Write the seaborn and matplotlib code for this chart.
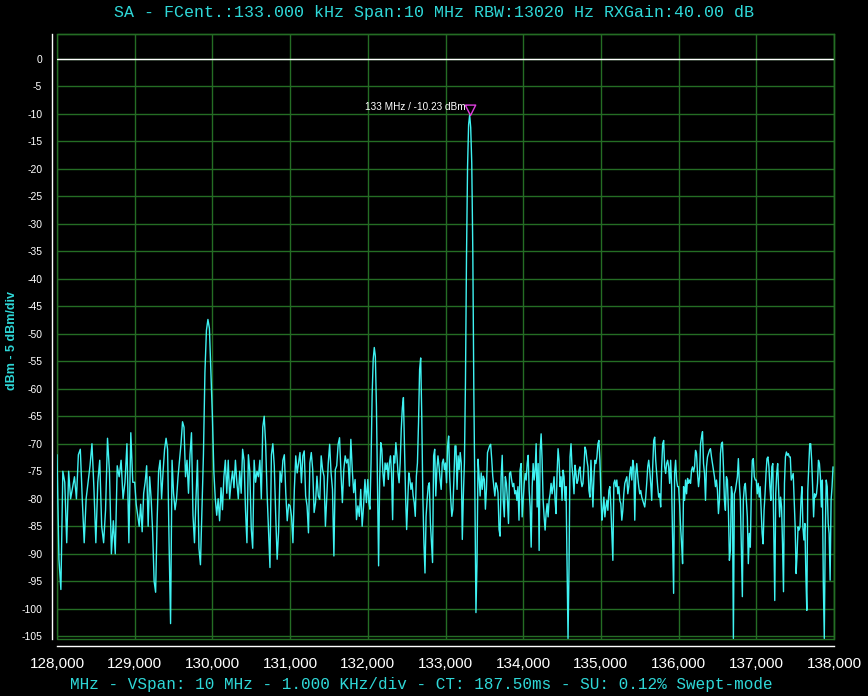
import numpy as np
import pandas as pd
import seaborn as sns
import matplotlib.pyplot as plt
from matplotlib.patches import Rectangle

sns.set_style("dark", {"axes.facecolor": "black", "figure.facecolor": "black",
                       "axes.edgecolor": "white", "grid.color": "#246d24",
                       "xtick.color": "white", "ytick.color": "white"})
plt.rcParams['font.family'] = ['Liberation Sans', 'DejaVu Sans']
plt.rcParams['axes.unicode_minus'] = False

# trace levels in dBm, one list for each 1000 kHz division
div_128 = [-72, -91, -96.5, -75, -77, -88, -75, -80, -78, -76,
           -80, -72, -71, -80, -88, -80, -77, -74, -70, -78,
           -88, -77, -73, -85, -88, -82, -69, -75, -90, -84,
           -90, -74, -76, -73, -80, -77, -70, -88, -68, -77]
div_129 = [-77, -81, -83, -85, -81, -86, -79, -77, -74, -85,
           -76, -80, -86, -95, -97, -84, -75, -73, -80, -75,
           -71, -69, -71, -88, -102.7, -73, -79, -82, -80, -76,
           -73, -70, -66, -67, -76, -73, -79, -72, -68, -83,
           -88, -80, -73, -89, -92, -82, -72, -57, -49.4, -47.4,
           -49, -57]
div_130 = [-65, -75, -80, -83, -80, -84, -78, -82, -76, -73,
           -79, -73, -80, -77, -75, -78, -73, -77, -80, -75,
           -79, -71, -73, -82, -88, -72, -75, -85.5, -89, -73,
           -77, -75, -76, -73, -80, -67, -65, -70, -79, -86,
           -92.5, -72, -70, -74, -83, -91, -86, -75, -77, -73,
           -72, -79, -84, -81]
div_131 = [-81.3, -83.2, -88, -78.3, -72.2, -75.3, -73.5, -71.6, -77.1, -72.2,
           -71.3, -79.5, -81.3, -86.2, -73.5, -71.6, -74.7, -82.5, -80.7, -75.9,
           -79.5, -80.1, -72.2, -74.7, -75.9, -85, -79.5, -73.5, -70.1, -75.3,
           -78.3, -90.4, -74.7, -74, -70.1, -68.9, -75.3, -80.7, -74.7, -72.2,
           -73.5, -72.8, -77.7, -69.2, -74.7, -78.9, -76.5, -83.8, -81.3, -83.2,
           -78.3, -85, -81.3, -76.5, -80.7]
div_132 = [-76.5, -80.7, -81.9, -73.5, -61.3, -54.7, -52.5, -54.1, -63.2, -78.3,
           -92.2, -76.5, -69.8, -71, -75.3, -77.7, -73.5, -74.7, -73.5, -76.5,
           -73.5, -72.2, -75.3, -83.8, -72.2, -73.5, -69.8, -72.2, -75.3, -77.1,
           -73.5, -67.4, -63.5, -61.6, -70.4, -79.5, -85.6, -80.7, -75.3, -76.5,
           -78.3, -77.1, -79.5, -80.7, -83.2, -75.9, -73.5, -66.2, -56.5, -54.4,
           -65, -79.5, -88, -93.5, -83.2, -80.1, -77.7, -77.1, -84.4, -88,
           -91.6, -72.2, -71, -79.5, -74.7, -72.2, -74.1, -76.5, -78.3, -73.5,
           -72.8, -74.7]
div_133 = [-73.5, -77.1, -70.4, -68.6, -75.9, -80.1, -83.2, -81.9, -76.5, -70.4,
           -70.4, -78.3, -72.2, -74.7, -71.6, -73.5, -87.4, -79.5, -73.5, -59,
           -36, -19.7, -12, -10.23, -12.5, -19, -35, -61, -79.5, -100.7,
           -91.6, -72.8, -75.9, -79.5, -75.3, -78.3, -75.9, -76.5, -81.9, -78.3,
           -71.6, -71, -70.4, -70.1, -72.8, -75.9, -77.7, -79.5, -77.1, -77.7,
           -78.9, -85.6, -86.8, -76, -72.1, -80.3, -83.3, -76, -77.2, -80.3,
           -84.5, -75.4, -75.1, -76.6, -77.8, -77.2, -79.1, -78.5, -80.3, -77.8,
           -83.9, -74.8, -73.6, -83.3]
div_134 = [-80.3, -77.2, -75.4, -76.6, -73.6, -72.1, -78.5, -81.5, -88.8, -77.8,
           -73.6, -76.6, -74.8, -70, -81.5, -73.6, -89.4, -71.2, -68.2, -73,
           -80.3, -83.3, -85.7, -82.7, -80.9, -83.3, -80.3, -79.1, -77.2, -79.1,
           -77.8, -76, -80.3, -82.7, -75.4, -70.9, -73, -77.8, -76, -80.3,
           -74.8, -76, -80.3, -77.8, -92.4, -105.4, -92.4, -72.4, -70, -74.2,
           -76, -79.1, -73.9, -75.4, -77.2, -76.6, -74.8, -74.2, -76.6, -77.8,
           -77.2, -74.2, -70.6, -71.2, -73, -74.2, -78.5, -79.7, -73, -77.2,
           -81.5, -76, -73, -73.6, -72.4, -70, -69.4, -73]
div_135 = [-79.1, -83.9, -82.1, -79.7, -83.3, -81.5, -80.3, -82.1, -78.5, -77.8,
           -81.5, -86.3, -91.2, -77.2, -76.6, -77.8, -76.6, -79.1, -77.8, -80.3,
           -80.9, -83.9, -82.1, -79.1, -77.2, -76.6, -76, -79.1, -77.8, -75.4,
           -74.2, -76.6, -73, -74.2, -83.9, -75.4, -73.6, -76, -77.8, -79.1,
           -78.5, -79.7, -80.3, -80.9, -81.5, -79.7, -77.2, -74.2, -73, -74.8,
           -77.2, -80.3, -74.2, -69.4, -68.8, -73, -75.4, -77.8, -79.7, -79.1,
           -81.5, -74.2, -70, -69.4, -74.2, -75.4, -73.6, -73, -74.2, -77.2,
           -73, -77.8, -87.5, -97.2, -75.4, -73, -76.6, -77.8]
div_136 = [-77.8, -80.9, -85.1, -88.2, -91.8, -77.8, -80.3, -76.6, -79.1, -76.3,
           -77.2, -76.6, -77.2, -74.8, -74.2, -75.1, -74.2, -71.2, -71.8, -75.4,
           -77.8, -76, -70, -68.8, -67.8, -73.6, -75.4, -80.3, -74.2, -72.4,
           -71.8, -71.2, -70.9, -72.4, -73.6, -74.8, -76, -77.8, -76.6, -78.5,
           -82.7, -80.3, -71.8, -70, -69.7, -74.2, -80.3, -82.1, -76, -76.6,
           -82.1, -91.2, -89.4, -77.8, -79.1, -105.4, -79.1, -78.5, -77.2, -76,
           -72.7, -77.2, -80.3, -88.8, -97.8, -80.3, -77.8, -77.2, -80.3, -83.3,
           -91.8, -86.3, -88.8, -78.5, -73, -72.7, -76, -76.6]
div_137 = [-76.6, -79.1, -77.2, -79.7, -77.8, -82.1, -86.3, -88.2, -82.1, -79.1,
           -75.4, -72.7, -72.4, -74.2, -77.8, -80.3, -74.2, -73.6, -86.3, -98.5,
           -79.1, -75.4, -73.6, -78.5, -83.3, -79.7, -81.5, -88.2, -96.9, -77.2,
           -72.4, -71.5, -72.1, -71.8, -72.4, -72.4, -76.6, -76, -75.4, -80.3,
           -85.1, -93.6, -90, -85.1, -85.7, -85.1, -80.3, -77.8, -85.1, -87.5,
           -84.5, -93.6, -100.3, -78.5, -74.2, -70, -70, -73, -77.8, -83.3,
           -79.1, -79.7, -79.1, -77.2, -73, -73.6, -76, -81.5, -76.6, -95.4,
           -105.4, -86.3, -76.6, -77.8, -84.5, -86.3, -94.8, -80.3, -77.8, -74.2]

divisions = [div_128, div_129, div_130, div_131, div_132,
             div_133, div_134, div_135, div_136, div_137]
span_start = 128000
div_khz = 1000
ref_level = 0
x_ticks = [128000, 129000, 130000, 131000, 132000, 133000,
           134000, 135000, 136000, 137000, 138000]
x_labels = ['128,000', '129,000', '130,000', '131,000', '132,000', '133,000',
            '134,000', '135,000', '136,000', '137,000', '138,000']
y_ticks = list(range(0, -110, -5))

freq, level = [], []
for k, vals in enumerate(divisions):
    f0 = span_start + k * div_khz
    freq += list(f0 + div_khz * np.arange(len(vals)) / len(vals))
    level += vals
df = pd.DataFrame({'freq': freq, 'level': level})

green = '#246d24'
cyan = '#3ff2f2'
label_cyan = '#2fd8d8'

fig = plt.figure(figsize=(8.68, 6.96), dpi=100)
ax = fig.add_axes([57 / 868, 57 / 696, 777 / 868, 605 / 696])
ax.set_axisbelow(True)
ax.grid(True, color=green, lw=1)

ax.axhline(ref_level, color='white', lw=1, zorder=2)
sns.lineplot(data=df, x='freq', y='level', color=cyan, lw=1,
             estimator=None, ax=ax, zorder=3)

# marker on the peak
pk = df['level'].idxmax()
pf, pl = df.loc[pk, 'freq'], df.loc[pk, 'level']
ax.plot([pf], [pl], marker=[(-1, 2), (1, 2), (0, 0), (-1, 2)], ms=15,
        mfc='none', mec='#e040e0', mew=1, zorder=5)
ax.annotate('133 MHz / %.2f dBm' % pl, (pf, pl), xytext=(-3, 6),
            textcoords='offset points', ha='right', va='center',
            color='white', fontsize=7.2, zorder=6)

ax.set_xlim(128000, 138000)
ax.set_ylim(-105.5, 4.5)
ax.set_xticks(x_ticks)
ax.set_xticklabels(x_labels)
ax.set_yticks(y_ticks)
ax.tick_params(axis='x', colors='white', labelsize=11, length=5, width=1,
               direction='out', pad=3)
ax.tick_params(axis='y', colors='white', labelsize=7.5, length=5, width=1,
               direction='out', pad=2)
ax.set_xlabel('')
ax.set_ylabel('')

ax.spines['left'].set_position(('outward', 3.6))
ax.spines['bottom'].set_position(('outward', 5))
for s in ['left', 'bottom']:
    ax.spines[s].set_color('white')
    ax.spines[s].set_linewidth(1)
for s in ['top', 'right']:
    ax.spines[s].set_color(green)
    ax.spines[s].set_linewidth(1)
ax.add_patch(Rectangle((0, 0), 1, 1, transform=ax.transAxes, fill=False,
                       edgecolor=green, lw=1, zorder=1, clip_on=False))

fig.text(434 / 868, 1 - 12 / 696,
         'SA - FCent.:133.000 kHz Span:10 MHz RBW:13020 Hz RXGain:40.00 dB',
         ha='center', va='center', color=label_cyan, fontsize=12,
         family=['Liberation Mono', 'DejaVu Sans Mono'])
fig.text(421 / 868, 1 - 684 / 696,
         'MHz - VSpan: 10 MHz - 1.000 KHz/div - CT: 187.50ms - SU: 0.12% Swept-mode',
         ha='center', va='center', color=label_cyan, fontsize=11.5,
         family=['Liberation Mono', 'DejaVu Sans Mono'])
fig.text(12 / 868, 1 - 340 / 696, 'dBm - 5 dBm/div', rotation=90,
         ha='center', va='center', color=label_cyan, fontsize=9, weight='bold')

fig.savefig('out.png', dpi=100, facecolor='black')
